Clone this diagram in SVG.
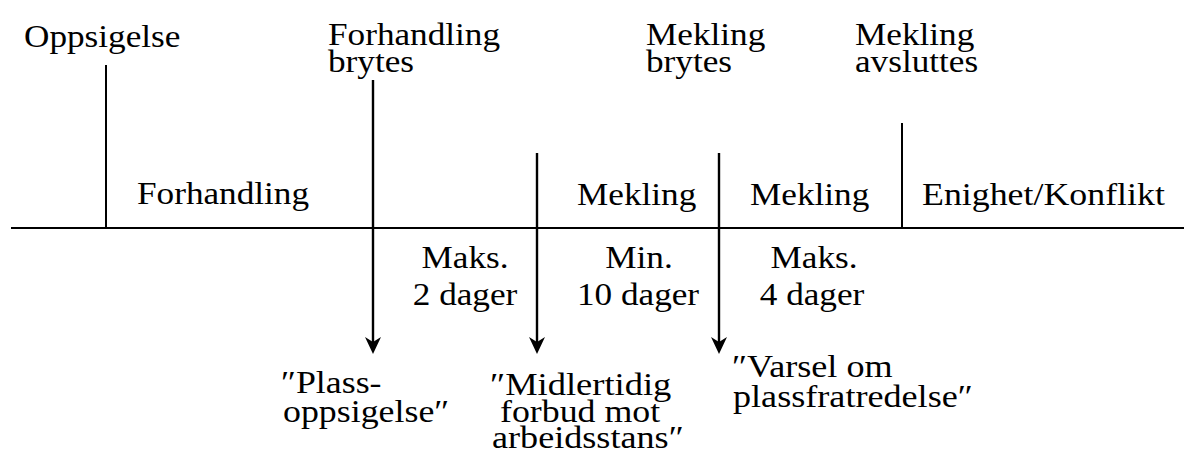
<svg xmlns="http://www.w3.org/2000/svg" width="1184" height="458" viewBox="0 0 1184 458">
  <style>
    text { font-family: "Liberation Serif", serif; font-size: 32px; fill: #000; }
    .c { text-anchor: middle; }
    .axis { stroke: #000; stroke-width: 2; fill: none; }
    .tick { stroke: #000; stroke-width: 2; fill: none; }
    .arrow { stroke: #000; stroke-width: 2.4; fill: none; }
    .head { fill: #000; stroke: none; }
  </style>
  <defs>
    <!-- arrowhead pointing down, tip at origin -->
    <path id="ah" class="head" d="M0,0 L-8,-17 L0,-12 L8,-17 Z"/>
  </defs>
  <rect width="1184" height="458" fill="#fff"/>

  <g id="connectors">
    <line class="axis" x1="11" y1="228" x2="1184" y2="228"/>
    <line class="tick" x1="106" y1="65" x2="106" y2="228"/>
    <line class="tick" x1="902" y1="123" x2="902" y2="228"/>
    <line class="arrow" x1="373" y1="80" x2="373" y2="345"/>
    <use href="#ah" x="373" y="354"/>
    <line class="arrow" x1="537" y1="153" x2="537" y2="345"/>
    <use href="#ah" x="537" y="354"/>
    <line class="arrow" x1="719" y1="153" x2="719" y2="345"/>
    <use href="#ah" x="719" y="354"/>
  </g>

  <!-- text is widened slightly with a horizontal scale -->
  <g id="oppsigelse">
    <text transform="translate(24,47) scale(1.1,1)">Oppsigelse</text>
  </g>
  <g id="forhandling-brytes">
    <text transform="translate(328,45) scale(1.1,1)">Forhandling</text>
    <text transform="translate(328,72) scale(1.1,1)">brytes</text>
  </g>
  <g id="mekling-brytes">
    <text transform="translate(646,45) scale(1.1,1)">Mekling</text>
    <text transform="translate(646,72) scale(1.1,1)">brytes</text>
  </g>
  <g id="mekling-avsluttes">
    <text transform="translate(855,45) scale(1.1,1)">Mekling</text>
    <text transform="translate(855,72) scale(1.1,1)">avsluttes</text>
  </g>

  <g id="fase-forhandling">
    <text transform="translate(137,204) scale(1.1,1)">Forhandling</text>
  </g>
  <g id="fase-mekling-1">
    <text transform="translate(577,205) scale(1.1,1)">Mekling</text>
  </g>
  <g id="fase-mekling-2">
    <text transform="translate(750,205) scale(1.1,1)">Mekling</text>
  </g>
  <g id="fase-enighet">
    <text transform="translate(922,205) scale(1.12,1)">Enighet/Konflikt</text>
  </g>

  <g id="frist-maks-2">
    <text class="c" transform="translate(465,268) scale(1.1,1)">Maks.</text>
    <text class="c" transform="translate(465,305) scale(1.1,1)">2 dager</text>
  </g>
  <g id="frist-min-10">
    <text class="c" transform="translate(639,268) scale(1.1,1)">Min.</text>
    <text class="c" transform="translate(638,305) scale(1.1,1)">10 dager</text>
  </g>
  <g id="frist-maks-4">
    <text class="c" transform="translate(814,268) scale(1.1,1)">Maks.</text>
    <text class="c" transform="translate(812,305) scale(1.1,1)">4 dager</text>
  </g>

  <g id="plassoppsigelse">
    <text transform="translate(281,393) scale(1.12,1)">″Plass-</text>
    <text transform="translate(283,422) scale(1.12,1)">oppsigelse″</text>
  </g>
  <g id="midlertidig-forbud">
    <text transform="translate(490,395) scale(1.14,1)">″Midlertidig</text>
    <text transform="translate(500,422) scale(1.12,1)">forbud mot</text>
    <text transform="translate(492,448) scale(1.13,1)">arbeidsstans″</text>
  </g>
  <g id="varsel-plassfratredelse">
    <text transform="translate(732,377) scale(1.13,1)">″Varsel om</text>
    <text transform="translate(733,407) scale(1.13,1)">plassfratredelse″</text>
  </g>
</svg>
